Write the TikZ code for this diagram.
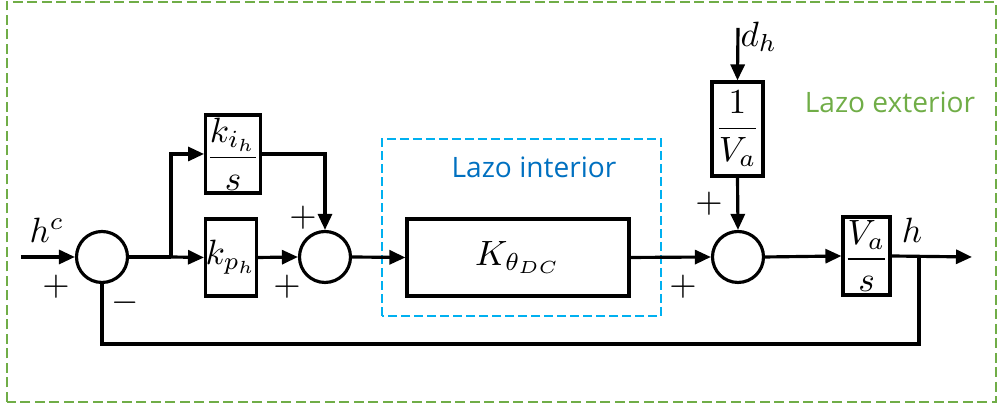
\documentclass[tikz,border=0pt]{standalone}
\usepackage{fontspec}
\usetikzlibrary{arrows.meta}
\newfontfamily\lazofont{Open Sans}
\definecolor{lazogreen}{RGB}{112,173,71}
\definecolor{lazoblue}{RGB}{0,112,192}
\definecolor{lazocyan}{RGB}{0,176,240}
\begin{document}
\begin{tikzpicture}[x=1mm, y=1mm, >={Triangle[length=1.6mm,width=1.4mm]},
  blk/.style={draw, line width=0.9pt, inner sep=0pt, minimum width=5mm, minimum height=7.8mm},
  sumpt/.style={draw, circle, line width=0.9pt, inner sep=0pt, minimum size=5.1mm},
  sig/.style={->, line width=0.9pt},
  lazotext/.style={font=\lazofont\fontsize{8}{9}\selectfont, anchor=base}]
  \useasboundingbox (0,0) rectangle (99.8,40.8);
  % loops
  \draw[lazogreen, line width=0.8pt, dash pattern=on 1mm off 0.45mm] (0.7,0.6) rectangle (99.6,40.6);
  \draw[lazocyan, line width=0.8pt, dash pattern=on 0.9mm off 0.4mm] (38.2,9.2) rectangle (66.1,26.9);
  \node[lazotext, text=lazoblue] (intlab) at (53.4,23.0) {Lazo interior};
  \node[lazotext, text=lazogreen] (extlab) at (89.0,29.5) {Lazo exterior};

  % blocks
  \node[sumpt] (sum1) at (10.2,15.1) {};
  \node[blk] (kih) at (23.3,25.4) {$\displaystyle\frac{k_{i_h}}{s}$};
  \node[blk, minimum height=7.7mm] (kph) at (23.1,15.05) {$k_{p_h}$};
  \node[sumpt] (sum2) at (32.5,15.1) {};
  \node[blk, minimum width=22.2mm, minimum height=7.7mm] (ktheta) at (51.8,15.05) {$K_{\theta_{DC}}$};
  \node[sumpt] (sum3) at (73.8,15.1) {};
  \node[blk, minimum width=5.1mm, minimum height=9.4mm] (inva) at (73.75,27.9) {$\displaystyle\frac{1}{V_a}$};
  \node[blk, minimum width=4.7mm] (vas) at (86.65,15.2) {$\displaystyle\frac{V_a}{s}$};

  % signals
  \coordinate (hin) at (2.1,15.1);
  \coordinate (brk) at (17.1,15.1);
  \coordinate (dh) at (73.8,38.0);
  \coordinate (brh) at (91.9,15.1);
  \coordinate (hout) at (97.2,15.1);
  \draw[sig] (hin) -- (sum1.west);
  \draw[line width=0.9pt] (sum1.east) -- (brk);
  \draw[sig] (brk) -- (kph.west);
  \draw[sig] (brk) |- (kih.west);
  \draw[sig] (kih.east) -| (sum2.north);
  \draw[sig] (kph.east) -- (sum2.west);
  \draw[sig] (sum2.east) -- (ktheta.west);
  \draw[sig] (ktheta.east) -- (sum3.west);
  \draw[sig] (dh) -- (inva.north);
  \draw[sig] (inva.south) -- (sum3.north);
  \draw[sig] (sum3.east) -- (vas.west);
  \draw[sig] (vas.east) -- (hout);
  \draw[line width=0.9pt] (brh) -- ++(0,-8.7) -| (sum1.south);

  % labels
  \node (hclab) at (4.7,17.8) {$h^c$};
  \node (p1) at (5.6,12.1) {$+$};
  \node (m1) at (12.5,10.5) {$-$};
  \node (p2a) at (30.3,19.0) {$+$};
  \node (p2b) at (28.7,12.1) {$+$};
  \node (p3a) at (70.9,20.4) {$+$};
  \node (p3b) at (68.3,12.1) {$+$};
  \node[anchor=west, inner sep=0pt] (dhlab) at (74.0,37.1) {$d_h$};
  \node (hlab) at (91.2,17.8) {$h$};
\end{tikzpicture}
\end{document}
